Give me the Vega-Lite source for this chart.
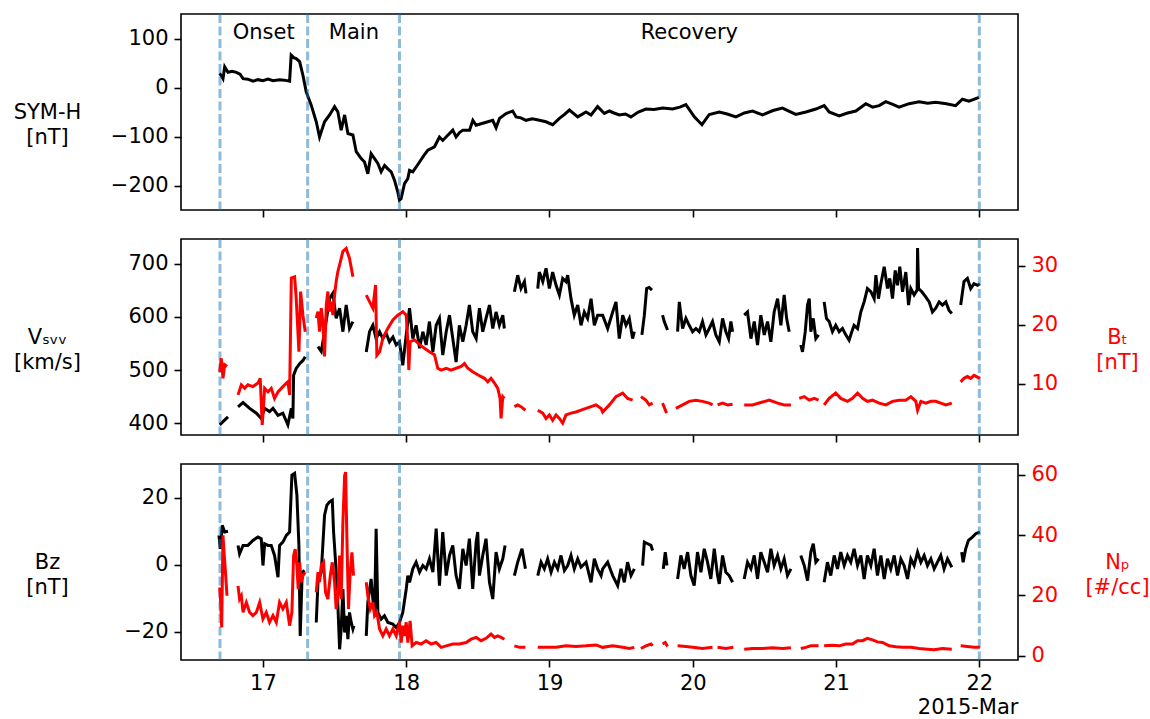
{
  "$schema": "https://vega.github.io/schema/vega-lite/v6.json",
  "padding": {"left": 12, "top": 11, "right": 0, "bottom": 0},
  "background": "white",
  "config": {
    "font": "DejaVu Sans",
    "view": {"stroke": "black", "strokeWidth": 1.6},
    "axis": {"domain": false, "grid": false, "tickColor": "black", "tickWidth": 1.6, "tickSize": 7, "labelFontSize": 21, "labelColor": "black", "labelPadding": 6, "titleFontSize": 21, "titleFontWeight": "normal", "titleColor": "black", "labelFont": "DejaVu Sans", "titleFont": "DejaVu Sans"},
    "concat": {"spacing": 17}
  },
  "datasets": {
    "bounds": [{"day": 16.700}, {"day": 17.312}, {"day": 17.953}, {"day": 22.0}],
    "phases": [{"day": 17.005, "label": "Onset"}, {"day": 17.635, "label": "Main"}, {"day": 19.976, "label": "Recovery"}],
    "symh": [
      {"day":16.698,"value":29,"seg":1},{"day":16.721,"value":18,"seg":1},{"day":16.733,"value":42,"seg":1},{"day":16.756,"value":31,"seg":1},{"day":16.785,"value":33,"seg":1},{"day":16.814,"value":31,"seg":1},{"day":16.840,"value":27,"seg":1},{"day":16.861,"value":18,"seg":1},{"day":16.895,"value":17,"seg":1},{"day":16.930,"value":13,"seg":1},{"day":16.965,"value":16,"seg":1},{"day":17.000,"value":14,"seg":1},{"day":17.035,"value":17,"seg":1},{"day":17.070,"value":14,"seg":1},{"day":17.116,"value":16,"seg":1},{"day":17.150,"value":15,"seg":1},{"day":17.186,"value":13,"seg":1},{"day":17.197,"value":66,"seg":1},{"day":17.215,"value":61,"seg":1},{"day":17.232,"value":59,"seg":1},{"day":17.256,"value":53,"seg":1},{"day":17.279,"value":25,"seg":1},{"day":17.302,"value":-9,"seg":1},{"day":17.337,"value":-36,"seg":1},{"day":17.372,"value":-70,"seg":1},{"day":17.395,"value":-101,"seg":1},{"day":17.430,"value":-70,"seg":1},{"day":17.465,"value":-56,"seg":1},{"day":17.500,"value":-39,"seg":1},{"day":17.523,"value":-50,"seg":1},{"day":17.546,"value":-87,"seg":1},{"day":17.570,"value":-56,"seg":1},{"day":17.593,"value":-94,"seg":1},{"day":17.628,"value":-97,"seg":1},{"day":17.651,"value":-131,"seg":1},{"day":17.686,"value":-145,"seg":1},{"day":17.709,"value":-152,"seg":1},{"day":17.732,"value":-176,"seg":1},{"day":17.755,"value":-135,"seg":1},{"day":17.779,"value":-145,"seg":1},{"day":17.802,"value":-155,"seg":1},{"day":17.825,"value":-172,"seg":1},{"day":17.849,"value":-159,"seg":1},{"day":17.872,"value":-166,"seg":1},{"day":17.895,"value":-172,"seg":1},{"day":17.918,"value":-189,"seg":1},{"day":17.941,"value":-213,"seg":1},{"day":17.953,"value":-230,"seg":1},{"day":17.964,"value":-227,"seg":1},{"day":17.988,"value":-196,"seg":1},{"day":18.011,"value":-186,"seg":1},{"day":18.023,"value":-169,"seg":1},{"day":18.046,"value":-172,"seg":1},{"day":18.093,"value":-152,"seg":1},{"day":18.120,"value":-140,"seg":1},{"day":18.151,"value":-128,"seg":1},{"day":18.197,"value":-121,"seg":1},{"day":18.232,"value":-101,"seg":1},{"day":18.255,"value":-108,"seg":1},{"day":18.278,"value":-101,"seg":1},{"day":18.325,"value":-87,"seg":1},{"day":18.348,"value":-101,"seg":1},{"day":18.372,"value":-92,"seg":1},{"day":18.395,"value":-87,"seg":1},{"day":18.442,"value":-87,"seg":1},{"day":18.465,"value":-67,"seg":1},{"day":18.488,"value":-77,"seg":1},{"day":18.534,"value":-73,"seg":1},{"day":18.570,"value":-70,"seg":1},{"day":18.604,"value":-67,"seg":1},{"day":18.627,"value":-82,"seg":1},{"day":18.651,"value":-63,"seg":1},{"day":18.697,"value":-53,"seg":1},{"day":18.743,"value":-48,"seg":1},{"day":18.767,"value":-60,"seg":1},{"day":18.800,"value":-62,"seg":1},{"day":18.836,"value":-67,"seg":1},{"day":18.880,"value":-64,"seg":1},{"day":18.930,"value":-67,"seg":1},{"day":18.975,"value":-70,"seg":1},{"day":19.022,"value":-76,"seg":1},{"day":19.069,"value":-63,"seg":1},{"day":19.105,"value":-55,"seg":1},{"day":19.139,"value":-46,"seg":1},{"day":19.197,"value":-60,"seg":1},{"day":19.255,"value":-50,"seg":1},{"day":19.290,"value":-56,"seg":1},{"day":19.336,"value":-39,"seg":1},{"day":19.383,"value":-53,"seg":1},{"day":19.418,"value":-48,"seg":1},{"day":19.450,"value":-52,"seg":1},{"day":19.488,"value":-56,"seg":1},{"day":19.530,"value":-54,"seg":1},{"day":19.568,"value":-60,"seg":1},{"day":19.620,"value":-50,"seg":1},{"day":19.673,"value":-44,"seg":1},{"day":19.730,"value":-45,"seg":1},{"day":19.790,"value":-42,"seg":1},{"day":19.859,"value":-44,"seg":1},{"day":19.910,"value":-40,"seg":1},{"day":19.952,"value":-35,"seg":1},{"day":20.011,"value":-60,"seg":1},{"day":20.064,"value":-76,"seg":1},{"day":20.115,"value":-55,"seg":1},{"day":20.185,"value":-50,"seg":1},{"day":20.240,"value":-54,"seg":1},{"day":20.301,"value":-60,"seg":1},{"day":20.360,"value":-52,"seg":1},{"day":20.417,"value":-48,"seg":1},{"day":20.487,"value":-56,"seg":1},{"day":20.560,"value":-47,"seg":1},{"day":20.626,"value":-42,"seg":1},{"day":20.719,"value":-55,"seg":1},{"day":20.790,"value":-50,"seg":1},{"day":20.859,"value":-44,"seg":1},{"day":20.917,"value":-37,"seg":1},{"day":20.952,"value":-50,"seg":1},{"day":21.022,"value":-58,"seg":1},{"day":21.080,"value":-52,"seg":1},{"day":21.138,"value":-48,"seg":1},{"day":21.208,"value":-33,"seg":1},{"day":21.255,"value":-40,"seg":1},{"day":21.301,"value":-37,"seg":1},{"day":21.347,"value":-29,"seg":1},{"day":21.400,"value":-35,"seg":1},{"day":21.440,"value":-40,"seg":1},{"day":21.510,"value":-33,"seg":1},{"day":21.580,"value":-29,"seg":1},{"day":21.640,"value":-32,"seg":1},{"day":21.696,"value":-30,"seg":1},{"day":21.770,"value":-33,"seg":1},{"day":21.835,"value":-37,"seg":1},{"day":21.882,"value":-24,"seg":1},{"day":21.928,"value":-28,"seg":1},{"day":21.998,"value":-20,"seg":1}
    ],
    "vsw": [
      {"day":16.698,"value":397,"seg":1},{"day":16.721,"value":403,"seg":1},{"day":16.756,"value":412,"seg":1},
      {"day":16.826,"value":431,"seg":2},{"day":16.861,"value":439,"seg":2},{"day":16.907,"value":428,"seg":2},{"day":16.954,"value":419,"seg":2},{"day":16.988,"value":409,"seg":2},{"day":17.012,"value":428,"seg":2},{"day":17.046,"value":422,"seg":2},{"day":17.070,"value":428,"seg":2},{"day":17.105,"value":415,"seg":2},{"day":17.139,"value":419,"seg":2},{"day":17.174,"value":397,"seg":2},{"day":17.198,"value":428,"seg":2},{"day":17.209,"value":409,"seg":2},{"day":17.214,"value":490,"seg":2},{"day":17.232,"value":503,"seg":2},{"day":17.256,"value":512,"seg":2},{"day":17.279,"value":518,"seg":2},{"day":17.295,"value":525,"seg":2},
      {"day":17.384,"value":544,"seg":3},{"day":17.407,"value":535,"seg":3},{"day":17.430,"value":572,"seg":3},{"day":17.465,"value":634,"seg":3},{"day":17.488,"value":644,"seg":3},{"day":17.511,"value":597,"seg":3},{"day":17.535,"value":616,"seg":3},{"day":17.558,"value":572,"seg":3},{"day":17.581,"value":622,"seg":3},{"day":17.604,"value":578,"seg":3},{"day":17.628,"value":591,"seg":3},
      {"day":17.721,"value":534,"seg":4},{"day":17.744,"value":572,"seg":4},{"day":17.767,"value":584,"seg":4},{"day":17.790,"value":559,"seg":4},{"day":17.814,"value":572,"seg":4},{"day":17.837,"value":559,"seg":4},{"day":17.860,"value":569,"seg":4},{"day":17.883,"value":553,"seg":4},{"day":17.907,"value":562,"seg":4},{"day":17.930,"value":547,"seg":4},{"day":17.953,"value":553,"seg":4},{"day":17.976,"value":509,"seg":4},{"day":18.000,"value":566,"seg":4},{"day":18.023,"value":616,"seg":4},{"day":18.046,"value":559,"seg":4},{"day":18.069,"value":584,"seg":4},{"day":18.093,"value":541,"seg":4},{"day":18.116,"value":572,"seg":4},{"day":18.139,"value":547,"seg":4},{"day":18.162,"value":591,"seg":4},{"day":18.186,"value":534,"seg":4},{"day":18.209,"value":584,"seg":4},{"day":18.232,"value":597,"seg":4},{"day":18.255,"value":528,"seg":4},{"day":18.279,"value":572,"seg":4},{"day":18.302,"value":603,"seg":4},{"day":18.325,"value":559,"seg":4},{"day":18.348,"value":515,"seg":4},{"day":18.371,"value":584,"seg":4},{"day":18.395,"value":553,"seg":4},{"day":18.418,"value":584,"seg":4},{"day":18.441,"value":622,"seg":4},{"day":18.464,"value":572,"seg":4},{"day":18.488,"value":559,"seg":4},{"day":18.511,"value":616,"seg":4},{"day":18.534,"value":572,"seg":4},{"day":18.557,"value":597,"seg":4},{"day":18.581,"value":622,"seg":4},{"day":18.604,"value":578,"seg":4},{"day":18.627,"value":609,"seg":4},{"day":18.650,"value":584,"seg":4},{"day":18.674,"value":603,"seg":4},{"day":18.685,"value":578,"seg":4},
      {"day":18.755,"value":647,"seg":5},{"day":18.778,"value":678,"seg":5},{"day":18.801,"value":653,"seg":5},{"day":18.825,"value":666,"seg":5},{"day":18.836,"value":644,"seg":5},
      {"day":18.918,"value":653,"seg":6},{"day":18.929,"value":684,"seg":6},{"day":18.953,"value":666,"seg":6},{"day":18.976,"value":691,"seg":6},{"day":18.999,"value":653,"seg":6},{"day":19.022,"value":684,"seg":6},{"day":19.046,"value":659,"seg":6},{"day":19.069,"value":641,"seg":6},{"day":19.092,"value":672,"seg":6},{"day":19.115,"value":666,"seg":6},{"day":19.127,"value":678,"seg":6},{"day":19.150,"value":634,"seg":6},{"day":19.173,"value":603,"seg":6},{"day":19.197,"value":622,"seg":6},{"day":19.220,"value":584,"seg":6},{"day":19.243,"value":609,"seg":6},{"day":19.266,"value":597,"seg":6},{"day":19.290,"value":634,"seg":6},{"day":19.313,"value":584,"seg":6},{"day":19.336,"value":603,"seg":6},{"day":19.371,"value":603,"seg":6},{"day":19.406,"value":578,"seg":6},{"day":19.441,"value":609,"seg":6},{"day":19.464,"value":628,"seg":6},{"day":19.487,"value":559,"seg":6},{"day":19.511,"value":603,"seg":6},{"day":19.534,"value":584,"seg":6},{"day":19.557,"value":597,"seg":6},{"day":19.580,"value":559,"seg":6},{"day":19.592,"value":572,"seg":6},
      {"day":19.645,"value":566,"seg":7},{"day":19.662,"value":603,"seg":7},{"day":19.678,"value":653,"seg":7},{"day":19.696,"value":655,"seg":7},{"day":19.715,"value":650,"seg":7},
      {"day":19.789,"value":603,"seg":8},{"day":19.801,"value":591,"seg":8},{"day":19.824,"value":575,"seg":8},
      {"day":19.894,"value":572,"seg":9},{"day":19.906,"value":628,"seg":9},{"day":19.929,"value":578,"seg":9},{"day":19.952,"value":597,"seg":9},{"day":19.975,"value":584,"seg":9},{"day":19.999,"value":572,"seg":9},{"day":20.022,"value":578,"seg":9},{"day":20.045,"value":572,"seg":9},{"day":20.068,"value":591,"seg":9},{"day":20.092,"value":566,"seg":9},{"day":20.115,"value":578,"seg":9},{"day":20.138,"value":591,"seg":9},{"day":20.161,"value":566,"seg":9},{"day":20.185,"value":553,"seg":9},{"day":20.208,"value":597,"seg":9},{"day":20.231,"value":572,"seg":9},{"day":20.250,"value":559,"seg":9},{"day":20.266,"value":591,"seg":9},{"day":20.278,"value":572,"seg":9},
      {"day":20.359,"value":603,"seg":10},{"day":20.382,"value":609,"seg":10},{"day":20.406,"value":559,"seg":10},{"day":20.429,"value":591,"seg":10},{"day":20.452,"value":547,"seg":10},{"day":20.475,"value":603,"seg":10},{"day":20.499,"value":566,"seg":10},{"day":20.522,"value":591,"seg":10},{"day":20.545,"value":553,"seg":10},{"day":20.568,"value":609,"seg":10},{"day":20.592,"value":634,"seg":10},{"day":20.615,"value":584,"seg":10},{"day":20.638,"value":641,"seg":10},{"day":20.655,"value":597,"seg":10},{"day":20.673,"value":572,"seg":10},
      {"day":20.754,"value":547,"seg":11},{"day":20.766,"value":534,"seg":11},{"day":20.785,"value":572,"seg":11},{"day":20.801,"value":622,"seg":11},{"day":20.813,"value":634,"seg":11},{"day":20.824,"value":572,"seg":11},{"day":20.841,"value":597,"seg":11},{"day":20.859,"value":559,"seg":11},{"day":20.878,"value":566,"seg":11},
      {"day":20.917,"value":628,"seg":12},{"day":20.933,"value":597,"seg":12},{"day":20.952,"value":591,"seg":12},{"day":20.975,"value":572,"seg":12},{"day":20.998,"value":584,"seg":12},{"day":21.022,"value":572,"seg":12},{"day":21.045,"value":578,"seg":12},{"day":21.068,"value":566,"seg":12},{"day":21.091,"value":556,"seg":12},{"day":21.110,"value":572,"seg":12},{"day":21.126,"value":584,"seg":12},{"day":21.150,"value":578,"seg":12},{"day":21.173,"value":609,"seg":12},{"day":21.196,"value":628,"seg":12},{"day":21.219,"value":653,"seg":12},{"day":21.243,"value":647,"seg":12},{"day":21.266,"value":634,"seg":12},{"day":21.278,"value":678,"seg":12},{"day":21.296,"value":634,"seg":12},{"day":21.313,"value":662,"seg":12},{"day":21.336,"value":694,"seg":12},{"day":21.359,"value":653,"seg":12},{"day":21.375,"value":672,"seg":12},{"day":21.394,"value":634,"seg":12},{"day":21.413,"value":687,"seg":12},{"day":21.429,"value":659,"seg":12},{"day":21.445,"value":694,"seg":12},{"day":21.464,"value":647,"seg":12},{"day":21.487,"value":684,"seg":12},{"day":21.506,"value":622,"seg":12},{"day":21.522,"value":653,"seg":12},{"day":21.545,"value":641,"seg":12},{"day":21.566,"value":650,"seg":12},{"day":21.569,"value":729,"seg":12},{"day":21.576,"value":653,"seg":12},{"day":21.599,"value":647,"seg":12},{"day":21.627,"value":637,"seg":12},{"day":21.650,"value":628,"seg":12},{"day":21.673,"value":609,"seg":12},{"day":21.696,"value":616,"seg":12},{"day":21.720,"value":628,"seg":12},{"day":21.743,"value":622,"seg":12},{"day":21.766,"value":628,"seg":12},{"day":21.789,"value":612,"seg":12},{"day":21.808,"value":606,"seg":12},
      {"day":21.870,"value":622,"seg":13},{"day":21.893,"value":666,"seg":13},{"day":21.917,"value":672,"seg":13},{"day":21.940,"value":653,"seg":13},{"day":21.963,"value":662,"seg":13},{"day":21.987,"value":659,"seg":13},{"day":22.004,"value":662,"seg":13}
    ],
    "bt": [
      {"day":16.698,"value":12.0,"seg":1},{"day":16.709,"value":14.3,"seg":1},{"day":16.721,"value":10.9,"seg":1},{"day":16.733,"value":13.2,"seg":1},{"day":16.749,"value":12.9,"seg":1},
      {"day":16.826,"value":8.1,"seg":2},{"day":16.849,"value":9.8,"seg":2},{"day":16.872,"value":9.2,"seg":2},{"day":16.895,"value":9.8,"seg":2},{"day":16.930,"value":9.5,"seg":2},{"day":16.965,"value":10.1,"seg":2},{"day":16.981,"value":10.9,"seg":2},{"day":16.995,"value":3.0,"seg":2},{"day":17.012,"value":9.2,"seg":2},{"day":17.035,"value":8.6,"seg":2},{"day":17.058,"value":9.2,"seg":2},{"day":17.081,"value":7.5,"seg":2},{"day":17.105,"value":8.6,"seg":2},{"day":17.128,"value":9.2,"seg":2},{"day":17.151,"value":9.8,"seg":2},{"day":17.174,"value":10.3,"seg":2},{"day":17.186,"value":8.1,"seg":2},{"day":17.198,"value":27.9,"seg":2},{"day":17.221,"value":28.1,"seg":2},{"day":17.232,"value":24.5,"seg":2},{"day":17.251,"value":15.4,"seg":2},{"day":17.263,"value":25.6,"seg":2},{"day":17.279,"value":21.6,"seg":2},{"day":17.295,"value":18.8,"seg":2},
      {"day":17.372,"value":21.1,"seg":3},{"day":17.384,"value":22.2,"seg":3},{"day":17.395,"value":18.8,"seg":3},{"day":17.407,"value":22.8,"seg":3},{"day":17.418,"value":20.5,"seg":3},{"day":17.430,"value":14.6,"seg":3},{"day":17.442,"value":23.3,"seg":3},{"day":17.453,"value":25.6,"seg":3},{"day":17.465,"value":22.2,"seg":3},{"day":17.477,"value":23.9,"seg":3},{"day":17.488,"value":21.6,"seg":3},{"day":17.500,"value":25.0,"seg":3},{"day":17.511,"value":27.3,"seg":3},{"day":17.523,"value":29.0,"seg":3},{"day":17.535,"value":30.1,"seg":3},{"day":17.558,"value":32.4,"seg":3},{"day":17.581,"value":32.9,"seg":3},{"day":17.604,"value":31.2,"seg":3},{"day":17.628,"value":28.1,"seg":3},
      {"day":17.721,"value":25.0,"seg":4},{"day":17.744,"value":23.9,"seg":4},{"day":17.767,"value":22.8,"seg":4},{"day":17.786,"value":26.7,"seg":4},{"day":17.795,"value":14.8,"seg":4},{"day":17.814,"value":15.4,"seg":4},{"day":17.837,"value":17.7,"seg":4},{"day":17.872,"value":19.4,"seg":4},{"day":17.907,"value":20.8,"seg":4},{"day":17.941,"value":21.6,"seg":4},{"day":17.976,"value":22.2,"seg":4},{"day":18.000,"value":21.6,"seg":4},{"day":18.011,"value":17.1,"seg":4},{"day":18.018,"value":12.3,"seg":4},{"day":18.027,"value":17.1,"seg":4},{"day":18.058,"value":17.4,"seg":4},{"day":18.093,"value":16.6,"seg":4},{"day":18.127,"value":16.0,"seg":4},{"day":18.162,"value":15.4,"seg":4},{"day":18.197,"value":14.9,"seg":4},{"day":18.220,"value":12.6,"seg":4},{"day":18.244,"value":12.3,"seg":4},{"day":18.279,"value":12.6,"seg":4},{"day":18.313,"value":12.3,"seg":4},{"day":18.348,"value":12.6,"seg":4},{"day":18.383,"value":12.9,"seg":4},{"day":18.406,"value":13.4,"seg":4},{"day":18.430,"value":12.6,"seg":4},{"day":18.464,"value":12.0,"seg":4},{"day":18.499,"value":11.5,"seg":4},{"day":18.523,"value":11.2,"seg":4},{"day":18.546,"value":10.9,"seg":4},{"day":18.569,"value":10.3,"seg":4},{"day":18.592,"value":10.9,"seg":4},{"day":18.616,"value":10.1,"seg":4},{"day":18.639,"value":9.2,"seg":4},{"day":18.655,"value":7.5,"seg":4},{"day":18.662,"value":4.1,"seg":4},{"day":18.674,"value":7.8,"seg":4},{"day":18.685,"value":7.5,"seg":4},
      {"day":18.755,"value":6.1,"seg":5},{"day":18.778,"value":6.4,"seg":5},{"day":18.801,"value":6.1,"seg":5},{"day":18.832,"value":5.5,"seg":5},
      {"day":18.918,"value":5.5,"seg":6},{"day":18.953,"value":5.0,"seg":6},{"day":18.976,"value":4.1,"seg":6},{"day":18.999,"value":4.7,"seg":6},{"day":19.022,"value":3.8,"seg":6},{"day":19.046,"value":4.7,"seg":6},{"day":19.069,"value":4.1,"seg":6},{"day":19.092,"value":3.3,"seg":6},{"day":19.115,"value":4.7,"seg":6},{"day":19.150,"value":5.0,"seg":6},{"day":19.185,"value":5.2,"seg":6},{"day":19.220,"value":5.5,"seg":6},{"day":19.255,"value":5.8,"seg":6},{"day":19.290,"value":6.1,"seg":6},{"day":19.325,"value":6.4,"seg":6},{"day":19.360,"value":5.8,"seg":6},{"day":19.371,"value":5.2,"seg":6},{"day":19.418,"value":6.4,"seg":6},{"day":19.464,"value":7.8,"seg":6},{"day":19.511,"value":8.4,"seg":6},{"day":19.545,"value":7.5,"seg":6},{"day":19.580,"value":7.2,"seg":6},
      {"day":19.638,"value":7.8,"seg":7},{"day":19.673,"value":7.2,"seg":7},{"day":19.696,"value":6.4,"seg":7},{"day":19.720,"value":6.7,"seg":7},
      {"day":19.789,"value":6.7,"seg":8},{"day":19.801,"value":6.0,"seg":8},{"day":19.817,"value":5.0,"seg":8},
      {"day":19.882,"value":5.8,"seg":9},{"day":19.929,"value":6.4,"seg":9},{"day":19.975,"value":7.0,"seg":9},{"day":20.022,"value":7.2,"seg":9},{"day":20.068,"value":7.0,"seg":9},{"day":20.115,"value":6.7,"seg":9},{"day":20.138,"value":6.4,"seg":9},
      {"day":20.173,"value":6.4,"seg":10},{"day":20.208,"value":6.7,"seg":10},{"day":20.243,"value":6.4,"seg":10},{"day":20.278,"value":6.5,"seg":10},
      {"day":20.359,"value":6.4,"seg":11},{"day":20.417,"value":6.4,"seg":11},{"day":20.475,"value":6.8,"seg":11},{"day":20.534,"value":7.2,"seg":11},{"day":20.592,"value":6.7,"seg":11},{"day":20.638,"value":6.4,"seg":11},{"day":20.685,"value":6.4,"seg":11},
      {"day":20.743,"value":7.5,"seg":12},{"day":20.778,"value":7.8,"seg":12},{"day":20.813,"value":7.2,"seg":12},{"day":20.848,"value":7.5,"seg":12},{"day":20.878,"value":7.2,"seg":12},
      {"day":20.917,"value":6.4,"seg":13},{"day":20.952,"value":7.5,"seg":13},{"day":20.998,"value":8.4,"seg":13},{"day":21.033,"value":7.5,"seg":13},{"day":21.080,"value":7.0,"seg":13},{"day":21.115,"value":7.5,"seg":13},{"day":21.150,"value":8.4,"seg":13},{"day":21.185,"value":7.5,"seg":13},{"day":21.219,"value":7.0,"seg":13},{"day":21.254,"value":7.2,"seg":13},{"day":21.301,"value":6.7,"seg":13},{"day":21.348,"value":6.4,"seg":13},{"day":21.394,"value":7.0,"seg":13},{"day":21.441,"value":7.2,"seg":13},{"day":21.487,"value":7.2,"seg":13},{"day":21.522,"value":7.8,"seg":13},{"day":21.557,"value":7.0,"seg":13},{"day":21.569,"value":5.5,"seg":13},{"day":21.592,"value":7.0,"seg":13},{"day":21.627,"value":6.7,"seg":13},{"day":21.662,"value":7.0,"seg":13},{"day":21.696,"value":7.0,"seg":13},{"day":21.731,"value":6.7,"seg":13},{"day":21.766,"value":6.4,"seg":13},{"day":21.808,"value":6.7,"seg":13},
      {"day":21.870,"value":10.3,"seg":14},{"day":21.893,"value":10.9,"seg":14},{"day":21.917,"value":11.2,"seg":14},{"day":21.940,"value":10.9,"seg":14},{"day":21.963,"value":11.4,"seg":14},{"day":22.004,"value":10.9,"seg":14}
    ],
    "bz": [
      {"day":16.693,"value":8.7,"seg":1},{"day":16.702,"value":4.7,"seg":1},{"day":16.716,"value":11.7,"seg":1},{"day":16.733,"value":9.7,"seg":1},{"day":16.756,"value":9.9,"seg":1},
      {"day":16.826,"value":5.7,"seg":2},{"day":16.837,"value":3.2,"seg":2},{"day":16.861,"value":5.7,"seg":2},{"day":16.895,"value":5.7,"seg":2},{"day":16.930,"value":7.2,"seg":2},{"day":16.965,"value":8.2,"seg":2},{"day":16.988,"value":7.7,"seg":2},{"day":17.000,"value":-0.3,"seg":2},{"day":17.012,"value":6.2,"seg":2},{"day":17.035,"value":5.7,"seg":2},{"day":17.058,"value":5.7,"seg":2},{"day":17.081,"value":2.7,"seg":2},{"day":17.105,"value":-3.8,"seg":2},{"day":17.116,"value":5.7,"seg":2},{"day":17.139,"value":6.7,"seg":2},{"day":17.163,"value":8.7,"seg":2},{"day":17.186,"value":9.7,"seg":2},{"day":17.202,"value":26.7,"seg":2},{"day":17.221,"value":27.2,"seg":2},{"day":17.237,"value":20.7,"seg":2},{"day":17.251,"value":5.7,"seg":2},{"day":17.260,"value":-21.3,"seg":2},{"day":17.274,"value":-2.3,"seg":2},{"day":17.291,"value":-1.8,"seg":2},
      {"day":17.372,"value":-17.3,"seg":3},{"day":17.384,"value":-5.3,"seg":3},{"day":17.407,"value":-2.3,"seg":3},{"day":17.430,"value":14.7,"seg":3},{"day":17.446,"value":17.7,"seg":3},{"day":17.465,"value":18.7,"seg":3},{"day":17.484,"value":19.2,"seg":3},{"day":17.493,"value":9.7,"seg":3},{"day":17.507,"value":0.7,"seg":3},{"day":17.523,"value":-12.3,"seg":3},{"day":17.535,"value":-25.3,"seg":3},{"day":17.546,"value":-19.3,"seg":3},{"day":17.558,"value":-7.3,"seg":3},{"day":17.570,"value":-20.3,"seg":3},{"day":17.581,"value":-15.3,"seg":3},{"day":17.593,"value":-22.3,"seg":3},{"day":17.604,"value":-14.3,"seg":3},{"day":17.616,"value":-17.3,"seg":3},{"day":17.628,"value":-19.3,"seg":3},{"day":17.635,"value":-18.3,"seg":3},
      {"day":17.721,"value":-21.3,"seg":4},{"day":17.732,"value":-11.3,"seg":4},{"day":17.755,"value":-4.3,"seg":4},{"day":17.767,"value":-10.3,"seg":4},{"day":17.779,"value":-14.3,"seg":4},{"day":17.790,"value":10.7,"seg":4},{"day":17.802,"value":-14.3,"seg":4},{"day":17.825,"value":-16.3,"seg":4},{"day":17.848,"value":-15.3,"seg":4},{"day":17.872,"value":-17.3,"seg":4},{"day":17.907,"value":-17.8,"seg":4},{"day":17.930,"value":-18.8,"seg":4},{"day":17.953,"value":-17.3,"seg":4},{"day":17.976,"value":-14.3,"seg":4},{"day":18.000,"value":-7.3,"seg":4},{"day":18.011,"value":-3.3,"seg":4},{"day":18.023,"value":-5.3,"seg":4},{"day":18.046,"value":-1.3,"seg":4},{"day":18.069,"value":0.7,"seg":4},{"day":18.093,"value":-2.3,"seg":4},{"day":18.116,"value":-0.3,"seg":4},{"day":18.139,"value":-1.3,"seg":4},{"day":18.162,"value":1.7,"seg":4},{"day":18.186,"value":-2.3,"seg":4},{"day":18.209,"value":10.7,"seg":4},{"day":18.232,"value":-6.3,"seg":4},{"day":18.255,"value":9.7,"seg":4},{"day":18.279,"value":-3.3,"seg":4},{"day":18.302,"value":2.7,"seg":4},{"day":18.325,"value":5.7,"seg":4},{"day":18.348,"value":-3.3,"seg":4},{"day":18.371,"value":-7.3,"seg":4},{"day":18.395,"value":4.7,"seg":4},{"day":18.418,"value":-0.3,"seg":4},{"day":18.441,"value":7.7,"seg":4},{"day":18.464,"value":-7.3,"seg":4},{"day":18.488,"value":6.7,"seg":4},{"day":18.499,"value":9.7,"seg":4},{"day":18.511,"value":-3.3,"seg":4},{"day":18.534,"value":2.7,"seg":4},{"day":18.557,"value":7.7,"seg":4},{"day":18.581,"value":-5.3,"seg":4},{"day":18.604,"value":-10.3,"seg":4},{"day":18.627,"value":3.7,"seg":4},{"day":18.650,"value":-1.3,"seg":4},{"day":18.674,"value":1.7,"seg":4},{"day":18.690,"value":5.7,"seg":4},
      {"day":18.755,"value":-3.3,"seg":5},{"day":18.778,"value":0.7,"seg":5},{"day":18.808,"value":4.7,"seg":5},{"day":18.832,"value":-1.3,"seg":5},
      {"day":18.918,"value":-3.3,"seg":6},{"day":18.941,"value":0.7,"seg":6},{"day":18.964,"value":-1.3,"seg":6},{"day":18.987,"value":1.7,"seg":6},{"day":19.011,"value":-2.3,"seg":6},{"day":19.034,"value":0.7,"seg":6},{"day":19.057,"value":-1.3,"seg":6},{"day":19.080,"value":2.7,"seg":6},{"day":19.104,"value":-1.8,"seg":6},{"day":19.127,"value":-0.3,"seg":6},{"day":19.150,"value":2.7,"seg":6},{"day":19.173,"value":-1.3,"seg":6},{"day":19.197,"value":1.7,"seg":6},{"day":19.220,"value":-0.8,"seg":6},{"day":19.255,"value":0.7,"seg":6},{"day":19.290,"value":-5.3,"seg":6},{"day":19.313,"value":1.7,"seg":6},{"day":19.336,"value":-1.3,"seg":6},{"day":19.360,"value":-3.3,"seg":6},{"day":19.371,"value":-1.3,"seg":6},{"day":19.406,"value":0.7,"seg":6},{"day":19.441,"value":-3.3,"seg":6},{"day":19.476,"value":-6.3,"seg":6},{"day":19.499,"value":-1.3,"seg":6},{"day":19.522,"value":-5.3,"seg":6},{"day":19.545,"value":0.7,"seg":6},{"day":19.569,"value":-3.3,"seg":6},{"day":19.592,"value":-1.3,"seg":6},
      {"day":19.650,"value":-0.3,"seg":7},{"day":19.662,"value":6.7,"seg":7},{"day":19.685,"value":6.2,"seg":7},{"day":19.708,"value":5.7,"seg":7},{"day":19.720,"value":4.2,"seg":7},
      {"day":19.794,"value":-1.3,"seg":8},{"day":19.808,"value":3.7,"seg":8},{"day":19.820,"value":-0.3,"seg":8},
      {"day":19.894,"value":-4.3,"seg":9},{"day":19.917,"value":2.7,"seg":9},{"day":19.940,"value":-1.3,"seg":9},{"day":19.964,"value":3.7,"seg":9},{"day":19.987,"value":-3.3,"seg":9},{"day":20.010,"value":-6.3,"seg":9},{"day":20.033,"value":3.7,"seg":9},{"day":20.057,"value":-2.3,"seg":9},{"day":20.080,"value":4.7,"seg":9},{"day":20.103,"value":0.7,"seg":9},{"day":20.126,"value":-4.3,"seg":9},{"day":20.150,"value":4.7,"seg":9},{"day":20.173,"value":-3.3,"seg":9},{"day":20.185,"value":-5.8,"seg":9},{"day":20.208,"value":2.7,"seg":9},{"day":20.231,"value":-2.3,"seg":9},{"day":20.254,"value":-3.3,"seg":9},{"day":20.278,"value":-5.3,"seg":9},
      {"day":20.359,"value":-4.3,"seg":10},{"day":20.382,"value":0.7,"seg":10},{"day":20.406,"value":-1.3,"seg":10},{"day":20.429,"value":2.7,"seg":10},{"day":20.452,"value":-4.3,"seg":10},{"day":20.475,"value":3.7,"seg":10},{"day":20.499,"value":0.7,"seg":10},{"day":20.522,"value":-2.3,"seg":10},{"day":20.545,"value":4.7,"seg":10},{"day":20.568,"value":-0.3,"seg":10},{"day":20.592,"value":2.7,"seg":10},{"day":20.615,"value":-1.3,"seg":10},{"day":20.638,"value":1.7,"seg":10},{"day":20.661,"value":-3.3,"seg":10},{"day":20.685,"value":-1.3,"seg":10},
      {"day":20.754,"value":2.7,"seg":11},{"day":20.778,"value":-0.3,"seg":11},{"day":20.801,"value":-4.8,"seg":11},{"day":20.824,"value":3.7,"seg":11},{"day":20.841,"value":6.2,"seg":11},{"day":20.859,"value":0.7,"seg":11},{"day":20.878,"value":1.7,"seg":11},
      {"day":20.917,"value":-5.3,"seg":12},{"day":20.940,"value":0.7,"seg":12},{"day":20.963,"value":-3.3,"seg":12},{"day":20.987,"value":2.7,"seg":12},{"day":21.010,"value":-1.3,"seg":12},{"day":21.033,"value":3.7,"seg":12},{"day":21.057,"value":-0.3,"seg":12},{"day":21.080,"value":2.7,"seg":12},{"day":21.103,"value":0.7,"seg":12},{"day":21.126,"value":4.7,"seg":12},{"day":21.150,"value":-0.3,"seg":12},{"day":21.173,"value":2.7,"seg":12},{"day":21.196,"value":-4.3,"seg":12},{"day":21.219,"value":2.7,"seg":12},{"day":21.243,"value":-0.3,"seg":12},{"day":21.266,"value":4.7,"seg":12},{"day":21.289,"value":-3.3,"seg":12},{"day":21.313,"value":2.7,"seg":12},{"day":21.336,"value":-4.3,"seg":12},{"day":21.359,"value":1.7,"seg":12},{"day":21.382,"value":-1.3,"seg":12},{"day":21.406,"value":2.7,"seg":12},{"day":21.429,"value":-3.3,"seg":12},{"day":21.452,"value":1.7,"seg":12},{"day":21.475,"value":-0.3,"seg":12},{"day":21.499,"value":-4.3,"seg":12},{"day":21.522,"value":1.7,"seg":12},{"day":21.545,"value":-0.3,"seg":12},{"day":21.569,"value":3.7,"seg":12},{"day":21.592,"value":0.7,"seg":12},{"day":21.615,"value":2.7,"seg":12},{"day":21.638,"value":-0.3,"seg":12},{"day":21.662,"value":1.7,"seg":12},{"day":21.685,"value":-1.3,"seg":12},{"day":21.708,"value":0.7,"seg":12},{"day":21.731,"value":2.7,"seg":12},{"day":21.754,"value":-1.3,"seg":12},{"day":21.778,"value":1.7,"seg":12},{"day":21.808,"value":-0.8,"seg":12},
      {"day":21.877,"value":3.7,"seg":13},{"day":21.887,"value":0.7,"seg":13},{"day":21.905,"value":4.7,"seg":13},{"day":21.924,"value":7.2,"seg":13},{"day":21.952,"value":8.2,"seg":13},{"day":21.975,"value":9.2,"seg":13},{"day":22.004,"value":9.7,"seg":13}
    ],
    "np": [
      {"day":16.698,"value":22.7,"seg":1},{"day":16.705,"value":17.7,"seg":1},{"day":16.712,"value":9.4,"seg":1},{"day":16.721,"value":39.9,"seg":1},{"day":16.730,"value":33.2,"seg":1},{"day":16.740,"value":26.6,"seg":1},{"day":16.749,"value":19.9,"seg":1},
      {"day":16.826,"value":23.2,"seg":2},{"day":16.837,"value":18.8,"seg":2},{"day":16.849,"value":19.9,"seg":2},{"day":16.861,"value":14.4,"seg":2},{"day":16.884,"value":17.7,"seg":2},{"day":16.907,"value":14.4,"seg":2},{"day":16.930,"value":13.3,"seg":2},{"day":16.954,"value":14.4,"seg":2},{"day":16.977,"value":17.7,"seg":2},{"day":17.000,"value":12.2,"seg":2},{"day":17.023,"value":14.4,"seg":2},{"day":17.046,"value":11.1,"seg":2},{"day":17.070,"value":13.3,"seg":2},{"day":17.093,"value":11.1,"seg":2},{"day":17.116,"value":17.7,"seg":2},{"day":17.139,"value":15.5,"seg":2},{"day":17.163,"value":17.7,"seg":2},{"day":17.186,"value":10.0,"seg":2},{"day":17.202,"value":14.4,"seg":2},{"day":17.214,"value":33.2,"seg":2},{"day":17.225,"value":35.4,"seg":2},{"day":17.237,"value":29.9,"seg":2},{"day":17.246,"value":22.1,"seg":2},{"day":17.256,"value":31.0,"seg":2},{"day":17.267,"value":24.4,"seg":2},{"day":17.279,"value":26.6,"seg":2},{"day":17.295,"value":27.7,"seg":2},
      {"day":17.372,"value":21.0,"seg":3},{"day":17.384,"value":27.7,"seg":3},{"day":17.395,"value":24.4,"seg":3},{"day":17.407,"value":29.9,"seg":3},{"day":17.423,"value":31.0,"seg":3},{"day":17.437,"value":21.0,"seg":3},{"day":17.453,"value":18.8,"seg":3},{"day":17.470,"value":26.6,"seg":3},{"day":17.484,"value":31.0,"seg":3},{"day":17.500,"value":24.4,"seg":3},{"day":17.511,"value":15.5,"seg":3},{"day":17.523,"value":19.9,"seg":3},{"day":17.535,"value":33.2,"seg":3},{"day":17.546,"value":18.8,"seg":3},{"day":17.558,"value":44.3,"seg":3},{"day":17.570,"value":59.8,"seg":3},{"day":17.577,"value":60.9,"seg":3},{"day":17.586,"value":38.7,"seg":3},{"day":17.597,"value":15.5,"seg":3},{"day":17.609,"value":27.7,"seg":3},{"day":17.621,"value":34.3,"seg":3},{"day":17.632,"value":26.6,"seg":3},
      {"day":17.721,"value":24.4,"seg":4},{"day":17.732,"value":19.9,"seg":4},{"day":17.749,"value":15.5,"seg":4},{"day":17.767,"value":17.7,"seg":4},{"day":17.779,"value":13.3,"seg":4},{"day":17.795,"value":14.4,"seg":4},{"day":17.814,"value":8.9,"seg":4},{"day":17.837,"value":6.6,"seg":4},{"day":17.860,"value":8.9,"seg":4},{"day":17.883,"value":6.6,"seg":4},{"day":17.907,"value":8.9,"seg":4},{"day":17.930,"value":6.6,"seg":4},{"day":17.953,"value":11.1,"seg":4},{"day":17.965,"value":4.4,"seg":4},{"day":17.976,"value":10.0,"seg":4},{"day":17.988,"value":6.6,"seg":4},{"day":18.000,"value":11.1,"seg":4},{"day":18.011,"value":4.4,"seg":4},{"day":18.027,"value":11.6,"seg":4},{"day":18.041,"value":3.3,"seg":4},{"day":18.069,"value":4.4,"seg":4},{"day":18.104,"value":3.9,"seg":4},{"day":18.139,"value":5.0,"seg":4},{"day":18.174,"value":3.9,"seg":4},{"day":18.209,"value":4.4,"seg":4},{"day":18.244,"value":2.8,"seg":4},{"day":18.279,"value":3.3,"seg":4},{"day":18.325,"value":3.9,"seg":4},{"day":18.371,"value":3.9,"seg":4},{"day":18.418,"value":4.4,"seg":4},{"day":18.453,"value":5.5,"seg":4},{"day":18.488,"value":6.1,"seg":4},{"day":18.523,"value":5.0,"seg":4},{"day":18.557,"value":5.8,"seg":4},{"day":18.592,"value":7.2,"seg":4},{"day":18.616,"value":6.1,"seg":4},{"day":18.639,"value":6.6,"seg":4},{"day":18.662,"value":6.1,"seg":4},{"day":18.685,"value":5.5,"seg":4},
      {"day":18.755,"value":3.3,"seg":5},{"day":18.790,"value":2.8,"seg":5},{"day":18.832,"value":2.8,"seg":5},
      {"day":18.918,"value":2.8,"seg":6},{"day":18.976,"value":2.8,"seg":6},{"day":19.046,"value":2.8,"seg":6},{"day":19.115,"value":3.3,"seg":6},{"day":19.185,"value":3.1,"seg":6},{"day":19.255,"value":3.3,"seg":6},{"day":19.325,"value":3.6,"seg":6},{"day":19.371,"value":2.8,"seg":6},{"day":19.441,"value":3.3,"seg":6},{"day":19.511,"value":2.8,"seg":6},{"day":19.557,"value":2.4,"seg":6},{"day":19.592,"value":2.8,"seg":6},
      {"day":19.638,"value":2.4,"seg":7},{"day":19.673,"value":3.3,"seg":7},{"day":19.708,"value":3.9,"seg":7},{"day":19.720,"value":3.3,"seg":7},
      {"day":19.789,"value":3.9,"seg":8},{"day":19.808,"value":4.4,"seg":8},{"day":19.824,"value":3.1,"seg":8},
      {"day":19.894,"value":3.3,"seg":9},{"day":19.952,"value":3.1,"seg":9},{"day":19.999,"value":2.8,"seg":9},{"day":20.068,"value":2.4,"seg":9},{"day":20.138,"value":2.8,"seg":9},
      {"day":20.173,"value":2.8,"seg":10},{"day":20.231,"value":2.4,"seg":10},{"day":20.283,"value":2.8,"seg":10},
      {"day":20.359,"value":2.2,"seg":11},{"day":20.417,"value":2.4,"seg":11},{"day":20.487,"value":2.4,"seg":11},{"day":20.557,"value":2.7,"seg":11},{"day":20.627,"value":2.4,"seg":11},{"day":20.685,"value":2.7,"seg":11},
      {"day":20.754,"value":2.4,"seg":12},{"day":20.789,"value":2.8,"seg":12},{"day":20.824,"value":3.3,"seg":12},{"day":20.878,"value":3.3,"seg":12},
      {"day":20.917,"value":3.3,"seg":13},{"day":20.975,"value":3.5,"seg":13},{"day":21.022,"value":3.3,"seg":13},{"day":21.068,"value":3.9,"seg":13},{"day":21.115,"value":3.9,"seg":13},{"day":21.150,"value":5.0,"seg":13},{"day":21.185,"value":5.0,"seg":13},{"day":21.219,"value":5.8,"seg":13},{"day":21.254,"value":5.3,"seg":13},{"day":21.289,"value":4.6,"seg":13},{"day":21.324,"value":4.4,"seg":13},{"day":21.371,"value":3.3,"seg":13},{"day":21.417,"value":3.0,"seg":13},{"day":21.464,"value":2.8,"seg":13},{"day":21.522,"value":2.8,"seg":13},{"day":21.580,"value":2.4,"seg":13},{"day":21.638,"value":2.2,"seg":13},{"day":21.685,"value":2.0,"seg":13},{"day":21.743,"value":2.4,"seg":13},{"day":21.808,"value":2.2,"seg":13},
      {"day":21.870,"value":3.3,"seg":14},{"day":21.917,"value":3.1,"seg":14},{"day":21.963,"value":2.8,"seg":14},{"day":22.004,"value":2.8,"seg":14}
    ]
  },
  "vconcat": [
    {
      "width": 837, "height": 196,
      "layer": [
        {
          "data": {"name": "symh"},
          "mark": {"type": "line", "color": "black", "strokeWidth": 3},
          "encoding": {
            "x": {"field": "day", "type": "quantitative", "scale": {"domain": [16.428, 22.27], "nice": false, "zero": false}, "axis": {"values": [17, 18, 19, 20, 21, 22], "labels": false, "title": null}},
            "y": {"field": "value", "type": "quantitative", "scale": {"domain": [-250, 150], "nice": false}, "axis": {"values": [-200, -100, 0, 100], "title": ["SYM-H", "[nT]"], "titleAngle": 0, "titleAlign": "center", "titleBaseline": "middle", "titleX": -134, "titleY": 98, "titleLineHeight": 25}},
            "detail": {"field": "seg"}
          }
        },
        {
          "data": {"name": "bounds"},
          "mark": {"type": "rule", "color": "#1f77b4", "opacity": 0.5, "strokeDash": [9, 3.5], "strokeWidth": 3},
          "encoding": {"x": {"field": "day", "type": "quantitative"}}
        },
        {
          "data": {"name": "phases"},
          "mark": {"type": "text", "fontSize": 21, "baseline": "alphabetic", "align": "center", "color": "black"},
          "encoding": {"x": {"field": "day", "type": "quantitative"}, "y": {"datum": 100}, "text": {"field": "label"}}
        }
      ]
    },
    {
      "width": 837, "height": 196,
      "layer": [
        {
          "data": {"name": "vsw"},
          "mark": {"type": "line", "color": "black", "strokeWidth": 3},
          "encoding": {
            "x": {"field": "day", "type": "quantitative", "scale": {"domain": [16.428, 22.27], "nice": false, "zero": false}, "axis": {"values": [17, 18, 19, 20, 21, 22], "labels": false, "title": null}},
            "y": {"field": "value", "type": "quantitative", "scale": {"domain": [378, 746], "nice": false, "zero": false}, "axis": {"values": [400, 500, 600, 700], "title": ["Vₛᵥᵥ", "[km/s]"], "titleAngle": 0, "titleAlign": "center", "titleBaseline": "middle", "titleX": -134, "titleY": 98, "titleLineHeight": 25}},
            "detail": {"field": "seg"}
          }
        },
        {
          "data": {"name": "bounds"},
          "mark": {"type": "rule", "color": "#1f77b4", "opacity": 0.5, "strokeDash": [9, 3.5], "strokeWidth": 3},
          "encoding": {"x": {"field": "day", "type": "quantitative"}}
        },
        {
          "data": {"name": "bt"},
          "mark": {"type": "line", "color": "#ff0000", "strokeWidth": 3},
          "encoding": {
            "x": {"field": "day", "type": "quantitative"},
            "y": {"field": "value", "type": "quantitative", "scale": {"domain": [1.3, 34.5], "nice": false, "zero": false}, "axis": {"orient": "right", "values": [10, 20, 30], "labelColor": "#ff0000", "title": ["Bₜ", "[nT]"], "titleColor": "#ff0000", "titleAngle": 0, "titleAlign": "center", "titleBaseline": "middle", "titleX": 99, "titleY": 98, "titleLineHeight": 25}},
            "detail": {"field": "seg"}
          }
        }
      ],
      "resolve": {"scale": {"y": "independent"}, "axis": {"y": "independent"}}
    },
    {
      "width": 837, "height": 196,
      "layer": [
        {
          "data": {"name": "bz"},
          "mark": {"type": "line", "color": "black", "strokeWidth": 3},
          "encoding": {
            "x": {"field": "day", "type": "quantitative", "scale": {"domain": [16.428, 22.27], "nice": false, "zero": false}, "axis": {"values": [17, 18, 19, 20, 21, 22], "format": "d", "labelPadding": 5, "title": "2015-Mar", "titleAnchor": "end", "titlePadding": 3}},
            "y": {"field": "value", "type": "quantitative", "scale": {"domain": [-28.5, 30], "nice": false, "zero": false}, "axis": {"values": [-20, 0, 20], "title": ["Bᴢ", "[nT]"], "titleAngle": 0, "titleAlign": "center", "titleBaseline": "middle", "titleX": -134, "titleY": 98, "titleLineHeight": 25}},
            "detail": {"field": "seg"}
          }
        },
        {
          "data": {"name": "bounds"},
          "mark": {"type": "rule", "color": "#1f77b4", "opacity": 0.5, "strokeDash": [9, 3.5], "strokeWidth": 3},
          "encoding": {"x": {"field": "day", "type": "quantitative"}}
        },
        {
          "data": {"name": "np"},
          "mark": {"type": "line", "color": "#ff0000", "strokeWidth": 3},
          "encoding": {
            "x": {"field": "day", "type": "quantitative"},
            "y": {"field": "value", "type": "quantitative", "scale": {"domain": [-1.4, 63.6], "nice": false, "zero": false}, "axis": {"orient": "right", "values": [0, 20, 40, 60], "labelColor": "#ff0000", "title": ["Nₚ", "[#/cc]"], "titleColor": "#ff0000", "titleAngle": 0, "titleAlign": "center", "titleBaseline": "middle", "titleX": 99, "titleY": 98, "titleLineHeight": 25}},
            "detail": {"field": "seg"}
          }
        }
      ],
      "resolve": {"scale": {"y": "independent"}, "axis": {"y": "independent"}}
    }
  ]
}
